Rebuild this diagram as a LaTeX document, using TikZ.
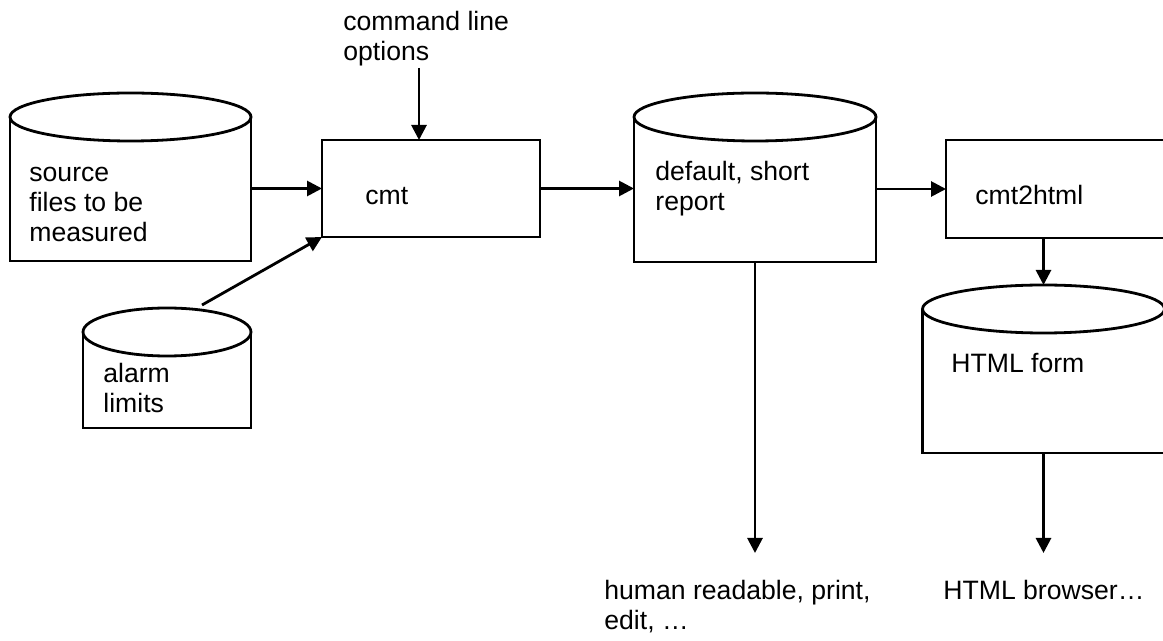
\documentclass[tikz,border=0pt]{standalone}
\usepackage{fontspec}
\setmainfont{Liberation Sans}
\usetikzlibrary{arrows.meta,calc,shapes.geometric}
\tikzset{
  ln/.style={line width=1.4pt, draw=black},
  arr/.style={ln, -{Triangle[length=7.5pt,width=7.5pt]}},
  box/.style={ln, rectangle, inner sep=0pt, outer sep=0pt},
  cylbody/.style={rectangle, inner sep=0pt, outer sep=0pt},
  lbl/.style={anchor=base west, inner sep=0pt, align=left, font=\fontsize{13.3}{15}\selectfont},
}
\newcommand\cylout[1]{%
  \draw[ln] ([yshift=-12pt]#1.north west) -- (#1.south west) -- (#1.south east) -- ([yshift=-12pt]#1.north east);
  \path let \p1=(#1.north west), \p2=(#1.north east) in
    node[ln, ellipse, draw, minimum width={\x2-\x1}, minimum height=24pt, inner sep=0pt, outer sep=0pt, fill=white] at ([yshift=-12pt]#1.north) {};
}
\begin{document}
\begin{tikzpicture}[x=0.5pt,y=-0.5pt]
\useasboundingbox (0,0) rectangle (1163,641);
\clip (0,0) rectangle (1163,641);
% cylinders
\node[cylbody, minimum width=120.5pt, minimum height=84pt] (src) at (130.5,177) {};
\node[cylbody, minimum width=84pt, minimum height=60pt] (alm) at (167,368) {};
\node[cylbody, minimum width=121pt, minimum height=84.5pt] (rep) at (755,177.5) {};
\node[cylbody, minimum width=121pt, minimum height=84pt] (htm) at (1043.5,369) {};
\cylout{src}
\cylout{alm}
\cylout{rep}
\cylout{htm}
% boxes
\node[box, minimum width=109pt, minimum height=48.5pt] (cmt) at (431,188.5) {};
\node[box, minimum width=118pt, minimum height=49pt] (c2h) at (1064,189) {};
% labels (anchor at baseline of last line)
\node[lbl] (tsrc) at (29,242) {source\\files to be\\measured};
\node[lbl] (talm) at (103,413) {alarm\\limits};
\node[lbl] (tcmt) at (365,205) {cmt};
\node[lbl] (trep) at (655,211) {default, short\\report};
\node[lbl] (tc2h) at (975,205) {cmt2html};
\node[lbl] (thtm) at (951,373) {HTML form};
\node[lbl] (tcmd) at (343,61) {command line\\options};
\node[lbl] (thum) at (604,630) {human readable, print,\\edit, \dots};
\node[lbl] (tbro) at (943,600) {HTML browser\dots};
% coordinates
\coordinate (cmdout) at (419,68);
\coordinate (almout) at (202,305);
\coordinate (humin) at (755,553);
\coordinate (broin) at (1043.5,553);
% connectors
\draw[arr] (cmdout) -- (cmdout |- cmt.north);
\draw[arr] (src.east |- cmt.west) -- (cmt.west);
\draw[arr] (almout) -- (cmt.south west);
\draw[arr] (cmt.east) -- (rep.west |- cmt.east);
\draw[arr] (rep.east |- c2h.west) -- (c2h.west);
\draw[arr] (rep.south) -- (humin);
\draw[arr] (htm.north |- c2h.south) -- (htm.north);
\draw[arr] (htm.south) -- (broin);
\end{tikzpicture}
\end{document}
